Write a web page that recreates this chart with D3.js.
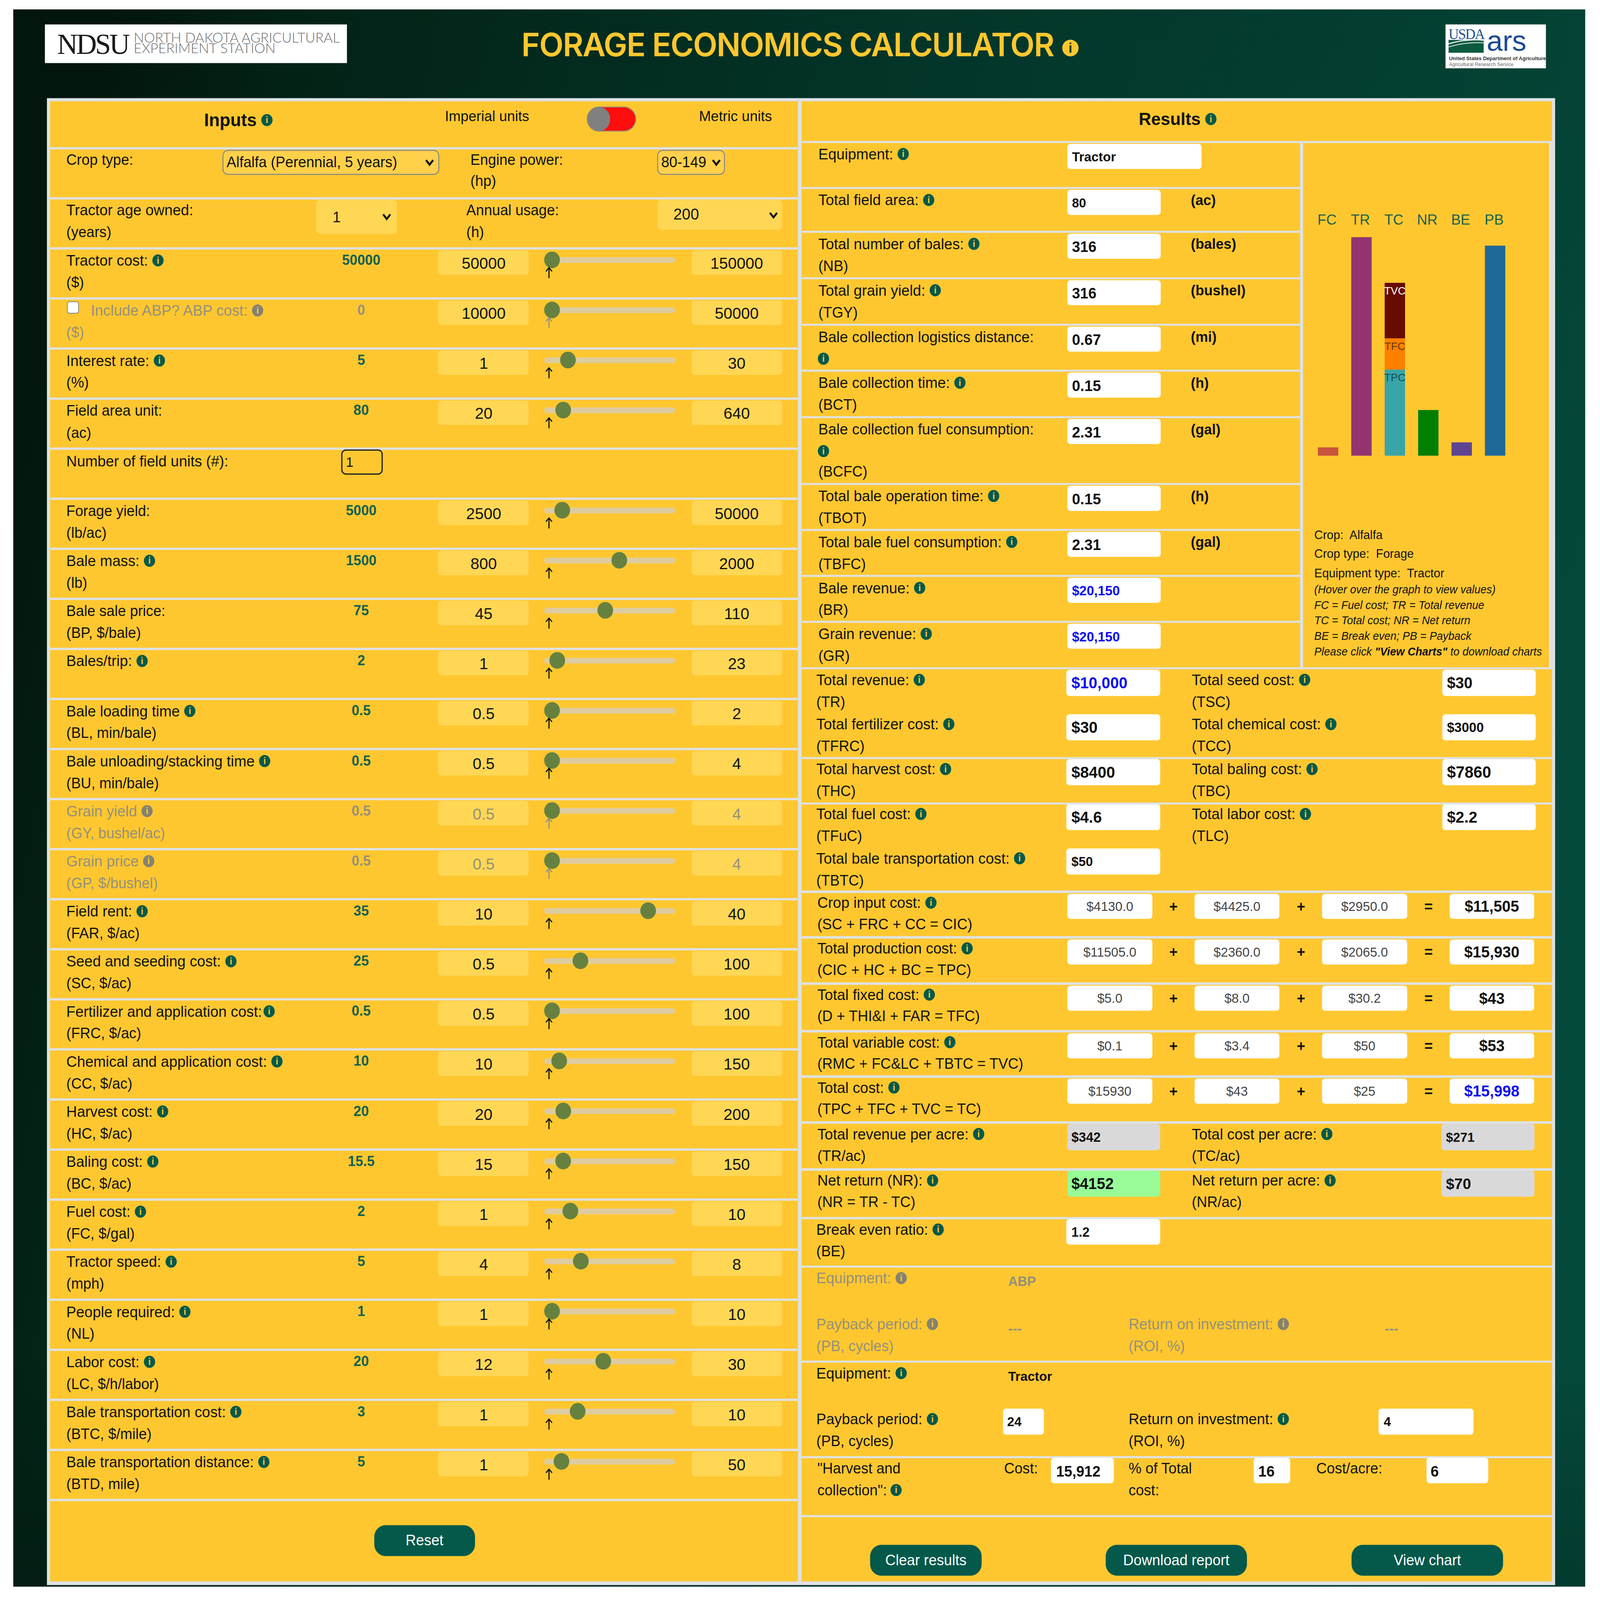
<!DOCTYPE html>
<html>
<head>
<meta charset="utf-8">
<style>
  html, body { margin: 0; background: #fff; overflow: hidden; }
  svg { display: block; width: 100vw; height: 100vh; }
  text { font-family: "Liberation Sans", sans-serif; }
</style>
<script src="https://cdnjs.cloudflare.com/ajax/libs/d3/7.8.5/d3.min.js"></script>
</head>
<body>
<div id="container"></div>
<script>
const barCategories = ["FC", "TR", "TC", "NR", "BE", "PB"];
const barColors = ["#c9533c", "#933471", "#39a5a8", "#007f00", "#5f4491", "#1f6998"];
const barValues = [3.8, 100, 79.1, 20.9, 6.1, 96.1];
const stackNames = ["TPC", "TFC", "TVC"];
const stackValues = [39.4, 14.3, 25.4];
const stackColors = ["#39a5a8", "#ff8000", "#660c00"];
const stackLabelColors = ["#0e4f55", "#6b3a00", "#ffffff"];

// inputs panel
const sliderLabels = ["Tractor cost:", "Include ABP? ABP cost:", "Interest rate:", "Field area unit:", "Forage yield:", "Bale mass:", "Bale sale price:", "Bales/trip:", "Bale loading time", "Bale unloading/stacking time", "Grain yield", "Grain price", "Field rent:", "Seed and seeding cost:", "Fertilizer and application cost:", "Chemical and application cost:", "Harvest cost:", "Baling cost:", "Fuel cost:", "Tractor speed:", "People required:", "Labor cost:", "Bale transportation cost:", "Bale transportation distance:"];
const sliderUnits = ["($)", "($)", "(%)", "(ac)", "(lb/ac)", "(lb)", "(BP, $/bale)", "", "(BL, min/bale)", "(BU, min/bale)", "(GY, bushel/ac)", "(GP, $/bushel)", "(FAR, $/ac)", "(SC, $/ac)", "(FRC, $/ac)", "(CC, $/ac)", "(HC, $/ac)", "(BC, $/ac)", "(FC, $/gal)", "(mph)", "(NL)", "(LC, $/h/labor)", "(BTC, $/mile)", "(BTD, mile)"];
const sliderValues = [50000, 0, 5, 80, 5000, 1500, 75, 2, 0.5, 0.5, 0.5, 0.5, 35, 25, 0.5, 10, 20, 15.5, 2, 5, 1, 20, 3, 5];
const sliderMins = [50000, 10000, 1, 20, 2500, 800, 45, 1, 0.5, 0.5, 0.5, 0.5, 10, 0.5, 0.5, 10, 20, 15, 1, 4, 1, 12, 1, 1];
const sliderMaxs = [150000, 50000, 30, 640, 50000, 2000, 110, 23, 2, 4, 4, 4, 40, 100, 100, 150, 200, 150, 10, 8, 10, 30, 10, 50];
// where the thumb sits in the picture, it is not always on the printed value
const thumbValues = [50000, 10000, 5, 80, 6700, 1500, 75, 2, 0.5, 0.5, 0.5, 0.5, 35, 25, 0.5, 18.7, 37.5, 28, 2.43, 5, 1, 20, 3, 5];
const noInfo = ["Field area unit:", "Forage yield:", "Bale sale price:"];

// results panel, top block next to the chart
const resultLabels = ["Equipment:", "Total field area:", "Total number of bales:", "Total grain yield:", "Bale collection logistics distance:", "Bale collection time:", "Bale collection fuel consumption:", "Total bale operation time:", "Total bale fuel consumption:", "Bale revenue:", "Grain revenue:"];
const resultAbbr = ["", "", "(NB)", "(TGY)", "", "(BCT)", "(BCFC)", "(TBOT)", "(TBFC)", "(BR)", "(GR)"];
const resultValues = ["Tractor", "80", "316", "316", "0.67", "0.15", "2.31", "0.15", "2.31", "$20,150", "$20,150"];
const resultUnits = ["", "(ac)", "(bales)", "(bushel)", "(mi)", "(h)", "(gal)", "(h)", "(gal)", "", ""];
const resultSizes = [12.7, 12.5, 14.4, 14.4, 14.6, 14.6, 14.6, 14.6, 14.6, 13, 13];
const resultRuleY = [136, 180, 222, 266.5, 311, 355, 399.5, 463.5, 507.5, 551.5, 595.5, 640];

// cost pairs
const pairLeft = [["Total revenue:", "(TR)", "$10,000"], ["Total fertilizer cost:", "(TFRC)", "$30"], ["Total harvest cost:", "(THC)", "$8400"], ["Total fuel cost:", "(TFuC)", "$4.6"], ["Total bale transportation cost:", "(TBTC)", "$50"]];
const pairRight = [["Total seed cost:", "(TSC)", "$30"], ["Total chemical cost:", "(TCC)", "$3000"], ["Total baling cost:", "(TBC)", "$7860"], ["Total labor cost:", "(TLC)", "$2.2"]];
const pairLeftSizes = [15.2, 15.4, 15.4, 15.3, 12.6];
const pairRightSizes = [15, 13, 15.6, 15.3];
const pairY = [641.5, 684, 727, 770, 812.5];

// equation rows
const eqLabels = ["Crop input cost:", "Total production cost:", "Total fixed cost:", "Total variable cost:", "Total cost:"];
const eqFormulas = ["(SC + FRC + CC = CIC)", "(CIC + HC + BC = TPC)", "(D + THI&I + FAR = TFC)", "(RMC + FC&LC + TBTC = TVC)", "(TPC + TFC + TVC = TC)"];
const eqTerms = [["$4130.0", "$4425.0", "$2950.0"], ["$11505.0", "$2360.0", "$2065.0"], ["$5.0", "$8.0", "$30.2"], ["$0.1", "$3.4", "$50"], ["$15930", "$43", "$25"]];
const eqResults = ["$11,505", "$15,930", "$43", "$53", "$15,998"];
const eqRuleY = [854, 897.7, 942, 987.6, 1031, 1075];

const legendLines = ["(Hover over the graph to view values)", "FC = Fuel cost; TR = Total revenue", "TC = Total cost; NR = Net return", "BE = Break even; PB = Payback"];

const YELLOW = "#ffc72f", RULE = "#dee2e6", GREEN = "#04594a", FIELD = "#ffd755", GREY = "#94907c";

document.addEventListener("DOMContentLoaded", function() {
  // the window can be capped below the asked size, so stretch to whatever it gives
  const svg = d3.select("#container").append("svg")
    .attr("viewBox", [0, 0, 1568, 1532.3])
    .attr("preserveAspectRatio", "none");

  const grad = svg.append("defs").append("linearGradient").attr("id", "bg")
    .attr("x1", 0).attr("y1", 0.3).attr("x2", 1).attr("y2", 0.5);
  [[0, "#03170d"], [0.12, "#032417"], [0.5, "#03382b"], [1, "#044a3b"]].forEach(s =>
    grad.append("stop").attr("offset", s[0]).attr("stop-color", s[1]));
  const grad2 = svg.select("defs").append("linearGradient").attr("id", "fade")
    .attr("x1", 0).attr("y1", 0).attr("x2", 0).attr("y2", 1);
  [[0, "#000", 0.06], [0.45, "#000", 0], [0.85, "#000", 0.0], [1, "#000", 0.22]].forEach(s =>
    grad2.append("stop").attr("offset", s[0]).attr("stop-color", s[1]).attr("stop-opacity", s[2]));

  svg.append("rect").attr("x", 13).attr("y", 9).attr("width", 1540.5).attr("height", 1510.5).attr("fill", "url(#bg)");
  svg.append("rect").attr("x", 13).attr("y", 9).attr("width", 1540.5).attr("height", 1510.5).attr("fill", "url(#fade)");

  // small helpers
  function txt(x, y, s, o = {}) {
    return svg.append("text").attr("x", x).attr("y", y).attr("dy", "0.35em")
      .attr("font-size", o.size || 14.2).attr("font-weight", o.weight || 400)
      .attr("font-style", o.style || "normal")
      .attr("text-anchor", o.anchor || "start").attr("fill", o.fill || "#111").text(s);
  }
  function info(x, y, color) {
    svg.append("ellipse").attr("cx", x).attr("cy", y).attr("rx", 5.5).attr("ry", 5.8).attr("fill", color);
    txt(x, y - 0.2, "i", { size: 9, weight: 700, anchor: "middle", fill: "#ffc72f" });
  }
  // first lines with an info dot run slightly wider than the plain ones
  function label(x, y, s, o = {}) {
    const t = txt(x, y, s, { ...o, size: o.size || (o.noIcon ? 14.2 : 14.5) });
    if (!o.noIcon) info(x + t.node().getComputedTextLength() + (o.gap || 9.8), y, o.iconColor || GREEN);
    return t;
  }
  function box(x0, x1, y, h, fill, o = {}) {
    svg.append("rect").attr("x", x0).attr("y", y).attr("width", x1 - x0).attr("height", h)
      .attr("rx", o.rx === undefined ? 3 : o.rx).attr("fill", fill)
      .attr("stroke", o.stroke || "none").attr("stroke-width", o.sw || 1);
  }
  function rule(x0, x1, y, w) {
    svg.append("rect").attr("x", x0).attr("y", y - (w || 1.9) / 2).attr("width", x1 - x0).attr("height", w || 1.9).attr("fill", RULE);
  }
  function chevron(x, y) {
    svg.append("path").attr("d", d3.line()([[x - 3.5, y - 2.2], [x, y + 2.2], [x + 3.5, y - 2.2]]))
      .attr("fill", "none").attr("stroke", "#111").attr("stroke-width", 1.9);
  }

  // header
  box(44, 340, 23.4, 37, "#fff", { rx: 0 });
  txt(56, 42, "NDSU", { size: 28, fill: "#1a1a1a" }).style("font-family", "Liberation Serif").style("letter-spacing", "-1.6px");
  txt(131, 36, "NORTH DAKOTA AGRICULTURAL", { size: 13.5, fill: "#6b6b6b" }).style("font-weight", 300).style("font-family", "Lato");
  txt(131, 46.3, "EXPERIMENT STATION", { size: 13.5, fill: "#6b6b6b" }).style("font-weight", 300).style("font-family", "Lato");
  txt(511, 43, "FORAGE ECONOMICS CALCULATOR", { size: 31, weight: 600, fill: "#ffc72f" }).style("font-family", "Inter").style("letter-spacing", "-0.75px");
  svg.append("circle").attr("cx", 1049).attr("cy", 46).attr("r", 8).attr("fill", YELLOW);
  txt(1049, 46, "i", { size: 13, weight: 700, anchor: "middle", fill: "#03382b" });

  box(1416.6, 1515, 23.4, 42, "#fff", { rx: 0 });
  txt(1419.6, 32.4, "USDA", { size: 14, fill: "#1c4f8e" }).style("font-family", "Liberation Serif").style("letter-spacing", "-0.8px");
  box(1419.6, 1454, 38.2, 12.3, "#0b5a40", { rx: 0 });
  svg.append("path").attr("d", "M1419.6 42 Q1436 37 1454 38.5").attr("fill", "none").attr("stroke", "#fff").attr("stroke-width", 1);
  svg.append("path").attr("d", "M1419.6 45 Q1436 40 1454 41").attr("fill", "none").attr("stroke", "#cfe3d8").attr("stroke-width", 0.8);
  txt(1457, 39, "ars", { size: 28, fill: "#1a4a94" });
  txt(1420, 55.8, "United States Department of Agriculture", { size: 5, weight: 700, fill: "#333" });
  txt(1420, 61.5, "Agricultural Research Service", { size: 4.8, fill: "#666" });

  // panel frame
  box(46, 1524, 94, 1424, RULE, { rx: 0 });
  box(49, 782, 97, 1417.5, YELLOW, { rx: 0 });
  box(785.5, 1521, 97, 1417.5, YELLOW, { rx: 0 });

  // ---------- inputs ----------
  label(200, 115, "Inputs", { size: 17.2, weight: 700, gap: 10 });
  txt(436, 111, "Imperial units", { size: 13.9 });
  txt(685, 111, "Metric units", { size: 14 });
  box(575.5, 623, 102.5, 23, "#fe0d0d", { rx: 11.5, stroke: "#9a8a70" });
  svg.append("ellipse").attr("cx", 587).attr("cy", 114).attr("rx", 11).attr("ry", 11.5).attr("fill", "#808080");

  const rowY = d3.scaleLinear().domain([0, 27]).range([142, 1436.5]);
  d3.range(0, 28).forEach(i => rule(49, 782, rowY(i), 2.2));

  label(65, 153, "Crop type:", { noIcon: true });
  box(218.5, 430, 144, 23, "#ffd04a", { stroke: "#8a8a86", rx: 5 });
  txt(222, 155, "Alfalfa (Perennial, 5 years)", { size: 14.2 });
  chevron(421, 155.5);
  label(461, 153, "Engine power:", { noIcon: true });
  txt(461, 173, "(hp)");
  box(644.5, 710, 144, 23, "#ffd04a", { stroke: "#8a8a86", rx: 5 });
  txt(648, 155, "80-149", { size: 14.2 });
  chevron(702, 155.5);

  label(65, 201, "Tractor age owned:", { noIcon: true, size: 14.5 });
  txt(65, 222, "(years)");
  box(310, 389, 191, 33, FIELD, { rx: 4 });
  txt(326, 208, "1");
  chevron(379, 207.5);
  label(457, 201, "Annual usage:", { noIcon: true });
  txt(457, 222, "(h)");
  box(644.5, 766.5, 191, 29, FIELD, { rx: 4 });
  txt(660, 205, "200", { size: 15 });
  chevron(758, 206);

  label(65, rowY(6) + 12, "Number of field units (#):", { noIcon: true, size: 14.5 });
  box(335, 374.5, 431, 23, YELLOW, { stroke: "#222", rx: 4, sw: 1.2 });
  txt(339, 442.5, "1", { size: 13.3 });

  // the rows with a slider
  const sliderRows = d3.range(2, 27).filter(i => i !== 6);
  sliderLabels.forEach((s, i) => {
    const top = rowY(sliderRows[i]);
    const off = i === 1 || i === 10 || i === 11;
    const grey = i === 10 || i === 11;
    const color = off ? GREY : "#111";
    const x = i === 1 ? 89 : 65;
    label(x, top + 11.5, s, { fill: color, noIcon: noInfo.includes(s), iconColor: off ? "#858271" : GREEN, gap: i === 14 ? 7 : 9.8 });
    if (sliderUnits[i]) txt(65, top + 32.5, sliderUnits[i], { fill: color });
    if (i === 1) box(66, 77, 289, 11, "#fff", { stroke: "#8a8a86", rx: 2, sw: 0.8 });

    txt(354, top + 11, sliderValues[i], { size: 13.5, weight: 700, anchor: "middle", fill: off ? GREY : "#0f6150" });
    box(429.5, 518, top + 1.8, 23.5, FIELD, { rx: 3 });
    box(678, 766.5, top + 1.8, 23.5, FIELD, { rx: 3 });
    txt(474, top + 14, sliderMins[i], { size: 15.5, anchor: "middle", fill: grey ? GREY : "#111" });
    txt(722, top + 14, sliderMaxs[i], { size: 15.5, anchor: "middle", fill: grey ? GREY : "#111" });

    // track runs 533-662 but the thumb centre stops 8 short of both ends
    const thumb = d3.scaleLinear().domain([sliderMins[i], sliderMaxs[i]]).range([541, 654]);
    box(533.4, 661.5, top + 8.5, 5.5, "#decca0", { rx: 2.5 });
    svg.append("ellipse").attr("cx", thumb(thumbValues[i])).attr("cy", top + 11).attr("rx", 7.7).attr("ry", 8)
      .attr("fill", "#66813f");
    const ac = off ? GREY : "#111";
    svg.append("path").attr("d", `M538 ${top + 28.5} V${top + 19} M535 ${top + 22} L538 ${top + 18.5} L541 ${top + 22}`)
      .attr("fill", "none").attr("stroke", ac).attr("stroke-width", 1.1);
  });

  box(366.8, 465.5, 1460.7, 29.5, GREEN, { rx: 11 });
  txt(416, 1475, "Reset", { size: 14.2, anchor: "middle", fill: "#fff" });

  // ---------- results ----------
  label(1116, 114, "Results", { size: 16.8, weight: 700, gap: 10 });
  resultRuleY.forEach((y, i) => rule(785.5, i === 0 || i === 11 ? 1521 : 1274, y));
  rule(1274, 1521, 136);
  svg.append("rect").attr("x", 1274).attr("y", 136).attr("width", 3).attr("height", 504).attr("fill", RULE);
  svg.append("rect").attr("x", 1518).attr("y", 136).attr("width", 3).attr("height", 504).attr("fill", RULE);

  resultLabels.forEach((s, i) => {
    const top = resultRuleY[i];
    label(802, top + 11.5, s, { noIcon: i === 4 || i === 6, size: 14.5 });
    if (i === 4 || i === 6) info(807, top + 32.5, GREEN);
    if (resultAbbr[i]) txt(802, top + (i === 6 ? 52 : 32.5), resultAbbr[i]);
    box(1046, i === 0 ? 1177.5 : 1137.5, top + 1.8, 24, "#fff");
    txt(1050.5, top + 14.2, resultValues[i], { weight: 700, size: resultSizes[i], fill: i > 8 ? "#0d0df0" : "#111" });
    if (resultUnits[i]) txt(1167, top + 11.5, resultUnits[i], { weight: 700, size: 13.8 });
  });

  // bar chart
  const x = d3.scaleBand().domain(barCategories).range([1291.5, 1475.2]).paddingInner(0.39).paddingOuter(0);
  const y = d3.scaleLinear().domain([0, 100]).range([436.4, 227.1]);
  const plot = svg.append("g");
  plot.selectAll("rect.bar").data(barCategories.filter(c => c !== "TC")).join("rect")
    .attr("class", "bar")
    .attr("x", d => x(d)).attr("width", x.bandwidth())
    .attr("y", d => y(barValues[barCategories.indexOf(d)]))
    .attr("height", d => y(0) - y(barValues[barCategories.indexOf(d)]))
    .attr("fill", d => barColors[barCategories.indexOf(d)]);
  const stacked = d3.stack().keys(stackNames)([Object.fromEntries(stackNames.map((n, i) => [n, stackValues[i]]))]);
  plot.selectAll("rect.seg").data(stacked).join("rect")
    .attr("class", "seg")
    .attr("x", x("TC")).attr("width", x.bandwidth())
    .attr("y", d => y(d[0][1])).attr("height", d => y(d[0][0]) - y(d[0][1]))
    .attr("fill", (d, i) => stackColors[i]);
  plot.selectAll("text.seg").data(stacked).join("text")
    .attr("class", "seg").attr("x", x("TC") + x.bandwidth() / 2).attr("y", d => y(d[0][1]) + 7.5)
    .attr("dy", "0.35em").attr("text-anchor", "middle").attr("font-size", 10.5)
    .attr("fill", (d, i) => stackLabelColors[i]).text(d => d.key);
  const catAxis = svg.append("g").attr("transform", "translate(-1,218)").call(d3.axisTop(x).tickSize(0));
  catAxis.select(".domain").remove();
  catAxis.selectAll("text").attr("font-size", 14).attr("fill", "#1c5f4f")
    .style("font-family", "Liberation Sans").attr("dy", "0");

  txt(1288, 512, "Crop:  Alfalfa", { size: 11.7 }).attr("xml:space", "preserve");
  txt(1288, 530, "Crop type:  Forage", { size: 11.7 }).attr("xml:space", "preserve");
  txt(1288, 549, "Equipment type:  Tractor", { size: 11.7 }).attr("xml:space", "preserve");
  legendLines.forEach((s, i) => txt(1288, 564.5 + i * 14.8, s, { size: 10.7, style: "italic" }));
  const last = txt(1288, 624, "", { size: 10.7, style: "italic" });
  last.append("tspan").text("Please click ");
  last.append("tspan").attr("font-weight", 700).text('"View Charts"');
  last.append("tspan").text(" to download charts");

  // cost pairs
  pairLeft.forEach((p, i) => {
    const top = pairY[i];
    label(800, top + 9.5, p[0]);
    txt(800, top + 30.5, p[1]);
    box(1045, 1137, top, 25, "#fff");
    txt(1050, top + 12.5, p[2], { weight: 700, size: pairLeftSizes[i], fill: i === 0 ? "#0d0df0" : "#111" });
  });
  pairRight.forEach((p, i) => {
    const top = pairY[i];
    label(1168, top + 9.5, p[0]);
    txt(1168, top + 30.5, p[1]);
    box(1413.5, 1505, top, 25, "#fff");
    txt(1418, top + 12.5, p[2], { weight: 700, size: pairRightSizes[i] });
  });
  rule(785.5, 1521, 726);
  rule(785.5, 1521, 769.5);

  // equation rows
  const termX = [[1046, 1129.3], [1170.7, 1253.8], [1295.6, 1379]];
  eqRuleY.forEach(y0 => rule(785.5, 1521, y0, 2.4));
  eqLabels.forEach((s, i) => {
    const top = eqRuleY[i];
    label(801, top + 10.5, s);
    txt(801, top + 31, eqFormulas[i]);
    eqTerms[i].forEach((t, j) => {
      box(termX[j][0], termX[j][1], top + 2, 24, "#fff");
      txt((termX[j][0] + termX[j][1]) / 2, top + 14, t, { size: 12.7, anchor: "middle", fill: "#444" });
    });
    txt(1150, top + 14, "+", { anchor: "middle", weight: 700 });
    txt(1275, top + 14, "+", { anchor: "middle", weight: 700 });
    txt(1400, top + 14, "=", { anchor: "middle", weight: 700 });
    box(1420.7, 1503.5, top + 2, 24, "#fff");
    txt(1462, top + 14, eqResults[i], { weight: 700, size: 15, anchor: "middle", fill: i === 4 ? "#0d0df0" : "#111" });
  });

  // per acre and net return
  label(801, 1086, "Total revenue per acre:");
  txt(801, 1107, "(TR/ac)");
  box(1046, 1137, 1076.3, 25.3, "#d9d9d9");
  txt(1050, 1089, "$342", { weight: 700, size: 12.9 });
  label(1168, 1086, "Total cost per acre:");
  txt(1168, 1107, "(TC/ac)");
  box(1412.6, 1503.8, 1076.3, 25.3, "#d9d9d9");
  txt(1417, 1089, "$271", { weight: 700, size: 12.6 });
  rule(785.5, 1521, 1120, 2.4);
  label(801, 1130.5, "Net return (NR):");
  txt(801, 1151, "(NR = TR - TC)");
  box(1046, 1137, 1121, 25, "#98fb98");
  txt(1050, 1133.5, "$4152", { weight: 700, size: 14.9 });
  label(1168, 1130.5, "Net return per acre:");
  txt(1168, 1151, "(NR/ac)");
  box(1412.6, 1503.8, 1121, 25, "#d9d9d9");
  txt(1417, 1133.5, "$70", { weight: 700, size: 14.8 });
  rule(785.5, 1521, 1166.6, 2.2);
  label(800, 1177.5, "Break even ratio:");
  txt(800, 1198, "(BE)");
  box(1045, 1137, 1167.5, 24.5, "#fff");
  txt(1050, 1180, "1.2", { weight: 700, size: 12.8 });
  rule(785.5, 1521, 1213, 2);

  // payback blocks, ABP is greyed out
  label(800, 1224, "Equipment:", { fill: GREY, iconColor: "#858271" });
  txt(988, 1227, "ABP", { weight: 700, size: 12.9, fill: GREY });
  label(800, 1268, "Payback period:", { fill: GREY, iconColor: "#858271" });
  txt(800, 1289, "(PB, cycles)", { fill: GREY });
  txt(988, 1272, "---", { weight: 700, size: 13.4, fill: GREY });
  label(1106, 1268, "Return on investment:", { fill: GREY, iconColor: "#858271" });
  txt(1106, 1289, "(ROI, %)", { fill: GREY });
  txt(1357, 1272, "---", { weight: 700, size: 13.4, fill: GREY });
  rule(785.5, 1521, 1304, 2);

  label(800, 1315, "Equipment:");
  txt(988, 1318, "Tractor", { weight: 700, size: 12.7 });
  label(800, 1359, "Payback period:");
  txt(800, 1380, "(PB, cycles)");
  box(983, 1023, 1349, 25, "#fff");
  txt(987, 1361.5, "24", { weight: 700, size: 12.7 });
  label(1106, 1359, "Return on investment:");
  txt(1106, 1380, "(ROI, %)");
  box(1351, 1444, 1349, 25, "#fff");
  txt(1356, 1361.5, "4", { weight: 700, size: 12.7 });
  rule(785.5, 1521, 1395.5, 2);

  txt(801, 1406, '"Harvest and');
  label(801, 1427, 'collection":', { size: 14.2, gap: 9 });
  txt(984, 1406, "Cost:");
  box(1030, 1091.6, 1396, 24.5, "#fff");
  txt(1035, 1409, "15,912", { weight: 700, size: 14.2 });
  txt(1106, 1406, "% of Total");
  txt(1106, 1427, "cost:");
  box(1228.6, 1264.4, 1396, 24.5, "#fff");
  txt(1233, 1409, "16", { weight: 700, size: 14.5 });
  txt(1290, 1406, "Cost/acre:");
  box(1398, 1458.5, 1396, 24.5, "#fff");
  txt(1402, 1409, "6", { weight: 700, size: 14.5 });
  rule(785.5, 1521, 1452, 2);

  [[852.7, 962, "Clear results"], [1083.6, 1222, "Download report"], [1324.5, 1473, "View chart"]].forEach(b => {
    box(b[0], b[1], 1479.5, 29.5, GREEN, { rx: 11 });
    txt((b[0] + b[1]) / 2, 1494, b[2], { anchor: "middle", fill: "#fff" });
  });
});
</script>
</body>
</html>
